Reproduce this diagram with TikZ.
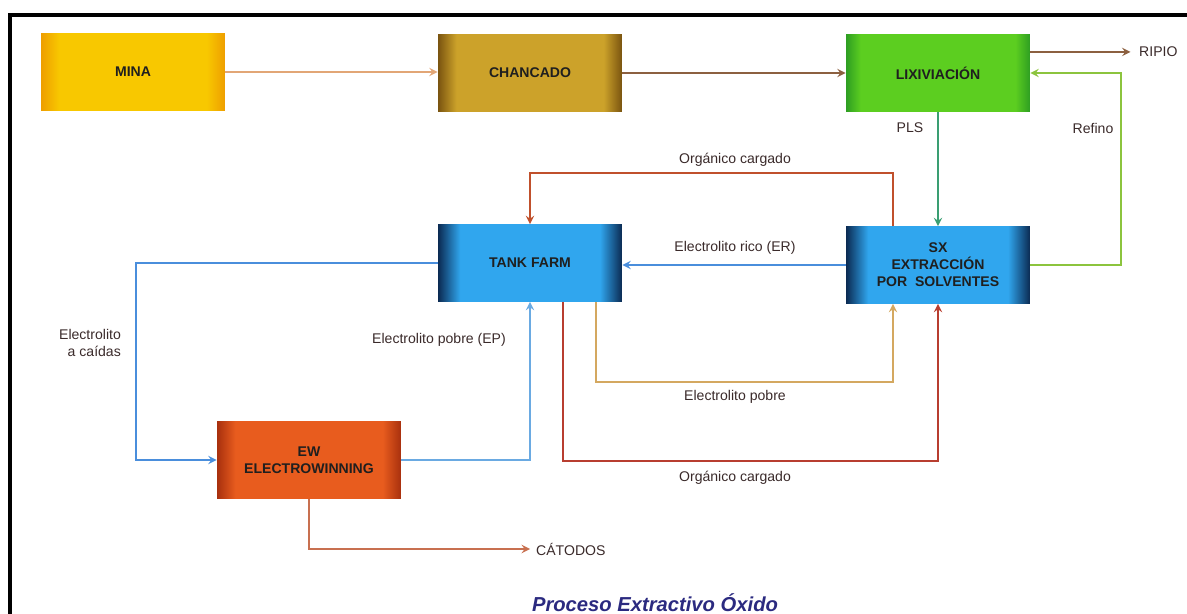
\documentclass[tikz,border=0pt]{standalone}
\usepackage{fontspec}
\setmainfont{Liberation Sans}
\usetikzlibrary{calc}
\definecolor{minaedge}{HTML}{EE9E00}
\definecolor{minamid}{HTML}{F8C800}
\definecolor{chanedge}{HTML}{7A5410}
\definecolor{chanmid}{HTML}{CCA22A}
\definecolor{lixiedge}{HTML}{2E9E22}
\definecolor{liximid}{HTML}{5CCE20}
\definecolor{tankedge}{HTML}{0B2A52}
\definecolor{tankmid}{HTML}{30A6EE}
\definecolor{ewedge}{HTML}{A8300E}
\definecolor{ewmid}{HTML}{E85C1E}
\definecolor{textgray}{HTML}{3A2A2A}
\definecolor{titleblue}{HTML}{2B2A80}
\definecolor{minaline}{HTML}{E2A676}
\definecolor{brownline}{HTML}{8C6040}
\definecolor{refinoline}{HTML}{8CC43E}
\definecolor{plsline}{HTML}{3A9E72}
\definecolor{orgline}{HTML}{C0502C}
\definecolor{rojoline}{HTML}{B83E30}
\definecolor{blueline}{HTML}{4A8EDC}
\definecolor{epline}{HTML}{6AAAE2}
\definecolor{pobreline}{HTML}{D4A860}
\definecolor{catline}{HTML}{C87050}
\pgfdeclarehorizontalshading{minashade}{100bp}{color(0bp)=(minaedge); color(25bp)=(minaedge); color(30bp)=(minamid); color(70bp)=(minamid); color(75bp)=(minaedge); color(100bp)=(minaedge)}
\pgfdeclarehorizontalshading{chanshade}{100bp}{color(0bp)=(chanedge); color(25bp)=(chanedge); color(30bp)=(chanmid); color(70bp)=(chanmid); color(75bp)=(chanedge); color(100bp)=(chanedge)}
\pgfdeclarehorizontalshading{lixishade}{100bp}{color(0bp)=(lixiedge); color(25bp)=(lixiedge); color(29bp)=(liximid); color(71bp)=(liximid); color(75bp)=(lixiedge); color(100bp)=(lixiedge)}
\pgfdeclarehorizontalshading{tankshade}{100bp}{color(0bp)=(tankedge); color(25bp)=(tankedge); color(31bp)=(tankmid); color(69bp)=(tankmid); color(75bp)=(tankedge); color(100bp)=(tankedge)}
\pgfdeclarehorizontalshading{ewshade}{100bp}{color(0bp)=(ewedge); color(25bp)=(ewedge); color(30bp)=(ewmid); color(70bp)=(ewmid); color(75bp)=(ewedge); color(100bp)=(ewedge)}
\tikzset{
	boxstyle/.style={rectangle,minimum width=3.68cm,minimum height=1.54cm,shade,text=black!88,align=center,font=\bfseries\fontsize{8}{9.6}\selectfont},
	minastyle/.style={boxstyle,shading=minashade},
	chanstyle/.style={boxstyle,shading=chanshade},
	lixistyle/.style={boxstyle,shading=lixishade},
	tankstyle/.style={boxstyle,shading=tankshade},
	ewstyle/.style={boxstyle,shading=ewshade},
	labelstyle/.style={text=textgray,font=\fontsize{8}{9.6}\selectfont},
	flowstyle/.style={line width=1.1pt,-stealth}
}
\begin{document}
\begin{tikzpicture}[x=0.02cm,y=-0.02cm]
	\useasboundingbox (0,0) rectangle (1187,614);
	\draw[line width=2.3pt] (1187,15) -- (10,15) -- (10,614);
	\node[minastyle] (mina) at (133,72) {MINA};
	\node[chanstyle] (chan) at (530,73) {CHANCADO};
	\node[lixistyle] (lixi) at (938,73) {LIXIVIACIÓN};
	\node[tankstyle] (tank) at (530,263) {TANK FARM};
	\node[tankstyle] (sx) at (938,265) {SX\\EXTRACCIÓN\\POR\ \ SOLVENTES};
	\node[ewstyle] (ew) at (309,460) {EW\\ELECTROWINNING};
	\node[labelstyle,anchor=west] (ripio) at (1133,52) {RIPIO};
	\node[labelstyle,anchor=west] (catodos) at (530,549) {CÁTODOS};
	\node[labelstyle] (pls) at (910,128) {PLS};
	\node[labelstyle] (refino) at (1093,128) {Refino};
	\node[labelstyle] (orgtop) at (735,160) {Orgánico cargado};
	\node[labelstyle] (er) at (735,248) {Electrolito rico (ER)};
	\node[labelstyle] (ep) at (439,340) {Electrolito pobre (EP)};
	\node[labelstyle,align=right] (caidas) at (90,343) {Electrolito\\a caídas};
	\node[labelstyle] (pobre) at (735,397) {Electrolito pobre};
	\node[labelstyle] (orgbot) at (735,478) {Orgánico cargado};
	\node[text=titleblue,font=\bfseries\itshape\fontsize{11.5}{14}\selectfont] (titulo) at (655,603) {Proceso Extractivo Óxido};
	% flujo principal
	\draw[flowstyle,draw=minaline] (mina.east) -- (mina.east -| chan.west);
	\draw[flowstyle,draw=brownline] (chan.east) -- (chan.east -| lixi.west);
	\draw[flowstyle,draw=brownline] (lixi.east |- ripio) -- ([xshift=-0.05cm]ripio.west);
	\draw[flowstyle,draw=plsline] (lixi.south) -- (sx.north);
	\draw[flowstyle,draw=refinoline] (sx.east) -- ++(91,0) |- (lixi.east);
	% circuito SX - tank farm
	\draw[flowstyle,draw=orgline] ($(sx.north)+(-45,0)$) -- ++(0,-53) -| (tank.north);
	\draw[flowstyle,draw=blueline] (sx.west) -- (sx.west -| tank.east);
	\draw[flowstyle,draw=pobreline] ($(tank.south)+(66,0)$) -- ++(0,80) -| ($(sx.south)+(-45,0)$);
	\draw[flowstyle,draw=rojoline] ($(tank.south)+(33,0)$) -- ++(0,159) -| (sx.south);
	% circuito EW
	\draw[flowstyle,draw=blueline] (tank.west) -- ++(-302,0) |- (ew.west);
	\draw[flowstyle,draw=epline] (ew.east) -| (tank.south);
	\draw[flowstyle,draw=catline] (ew.south) |- (catodos.west);
\end{tikzpicture}
\end{document}
